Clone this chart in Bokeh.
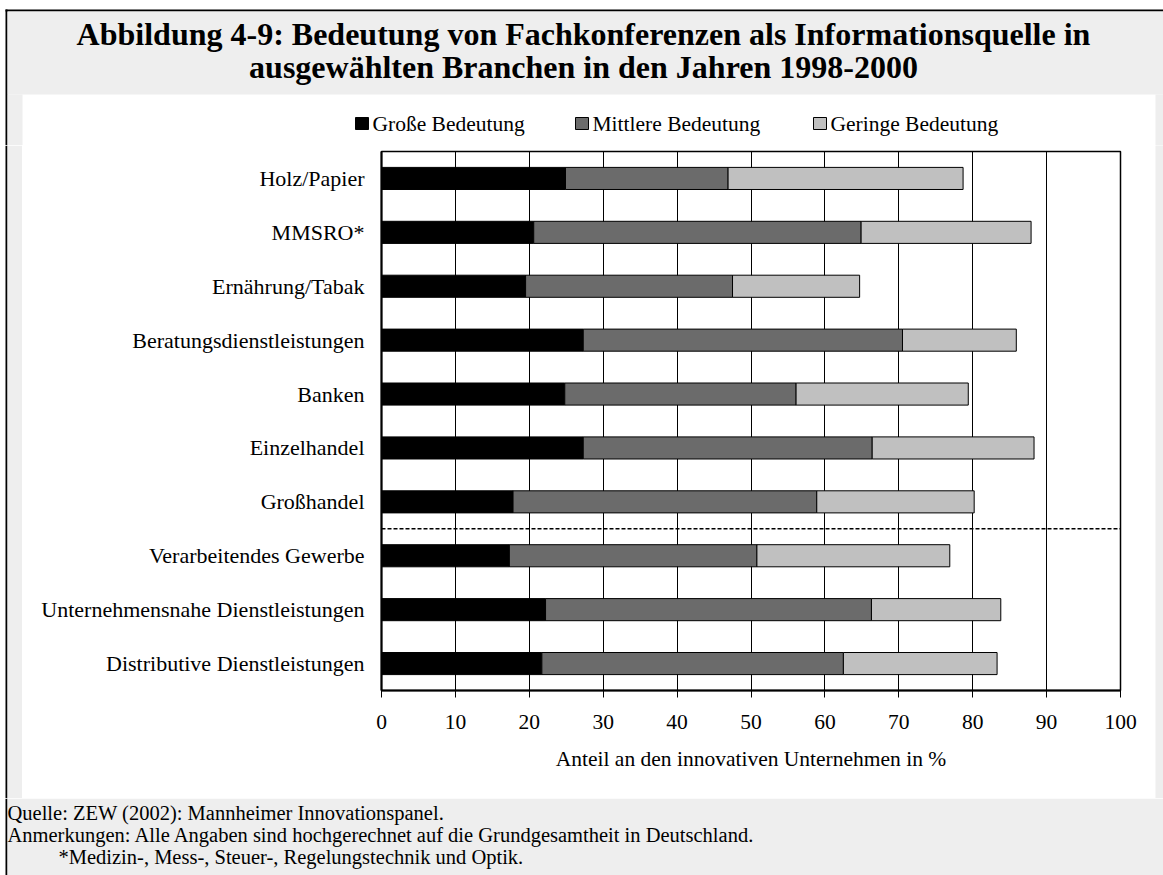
from bokeh.plotting import figure
from bokeh.layouts import column, row
from bokeh.models import ColumnDataSource, Range1d, FixedTicker, Span
from bokeh.core.properties import value
from bokeh.embed import file_html
from bokeh.resources import INLINE

# ---------------- data ----------------
categories = ["Holz/Papier", "MMSRO*", "Ernährung/Tabak", "Beratungsdienstleistungen",
              "Banken", "Einzelhandel", "Großhandel", "Verarbeitendes Gewerbe",
              "Unternehmensnahe Dienstleistungen", "Distributive Dienstleistungen"]
grosse = [24.9, 20.6, 19.5, 27.3, 24.8, 27.3, 17.8, 17.3, 22.2, 21.7]
mittlere = [22.0, 44.3, 28.0, 43.2, 31.3, 39.1, 41.1, 33.5, 44.1, 40.8]
geringe = [31.8, 23.0, 17.2, 15.4, 23.3, 21.9, 21.3, 26.1, 17.5, 20.8]
series_names = ["Große Bedeutung", "Mittlere Bedeutung", "Geringe Bedeutung"]
series_colors = ["#000000", "#6b6b6b", "#c0c0c0"]
x_ticks = [0, 10, 20, 30, 40, 50, 60, 70, 80, 90, 100]
separator_after = "Großhandel"
title_lines = ["Abbildung 4-9: Bedeutung von Fachkonferenzen als Informationsquelle in",
               "ausgewählten Branchen in den Jahren 1998-2000"]
axis_title = "Anteil an den innovativen Unternehmen in %"
notes = ["Quelle: ZEW (2002): Mannheimer Innovationspanel.",
         "Anmerkungen: Alle Angaben sind hochgerechnet auf die Grundgesamtheit in Deutschland.",
         "*Medizin-, Mess-, Steuer-, Regelungstechnik und Optik."]

# ---------------- layout (page pixels) ----------------
PW, PH = 1163, 875
PANEL_L, PANEL_R, PANEL_T, PANEL_B = 22, 1155, 94, 798   # white chart panel
TOP_B = 145                                              # header strip bottom
FL, FR, FT, FB = 381, 1120, 151, 690                     # plot frame
FONT = "Liberation Serif"
GREY = "#eeeeee"


def canvas(x0, x1, y0, y1, bg="white"):
    """figure whose data coordinates are page pixels (y downwards)"""
    f = figure(width=x1 - x0, height=y1 - y0, output_backend="svg", toolbar_location=None,
               x_range=Range1d(x0, x1), y_range=Range1d(y1, y0),
               x_axis_type=None, y_axis_type=None, min_border=0)
    f.title.visible = False
    f.outline_line_color = None
    f.background_fill_color = bg
    f.border_fill_color = bg
    f.grid.visible = False
    return f


def block(f, l, r, t, b, color, line=None):
    f.quad(left=[l], right=[r], top=[t], bottom=[b], fill_color=color,
           line_color=line, line_width=1)


def txt(f, x, y, s, size, align="left", style="normal"):
    f.text(x=[x], y=[y], text=[s], text_font=value(FONT), text_font_size=value(size),
           text_font_style=style, text_align=align, text_baseline="middle",
           text_color="black")


# ---- header strip: title + legend ----
ft = canvas(0, PW, 0, TOP_B)
block(ft, 5, PW, 9, 11, "black")
block(ft, 5, 7, 9, TOP_B, "black")
block(ft, 7, PW, 11, PANEL_T, GREY)
block(ft, 7, PANEL_L, PANEL_T, TOP_B, GREY)
block(ft, PANEL_R, PW, PANEL_T, TOP_B, GREY)
txt(ft, 583, 33, title_lines[0], "32px", "center", "bold")
txt(ft, 583, 66, title_lines[1], "32px", "center", "bold")

leg_sq = [355, 575, 813]
for name, col, x0 in zip(series_names, series_colors, leg_sq):
    block(ft, x0, x0 + 13, 117, 129, col, line="black")
    txt(ft, x0 + 17, 123, name, "21.5px")

# ---- side strips ----
fl = canvas(0, PANEL_L, TOP_B, PANEL_B)
block(fl, 5, 7, TOP_B, PANEL_B, "black")
block(fl, 7, PANEL_L, TOP_B, PANEL_B, GREY)
fr = canvas(PANEL_R, PW, TOP_B, PANEL_B, bg=GREY)

# ---- main chart ----
N = len(categories)
ypos = [N - 1 - i for i in range(N)]          # top category first
src = ColumnDataSource(dict(y=ypos, g=grosse, m=mittlere, l=geringe))

p = figure(width=PANEL_R - PANEL_L, height=PANEL_B - TOP_B, output_backend="svg",
           toolbar_location=None,
           x_range=Range1d(0, 100), y_range=Range1d(-0.5, N - 0.5),
           min_border_left=FL - PANEL_L, min_border_right=PANEL_R - FR,
           min_border_top=FT - TOP_B, min_border_bottom=PANEL_B - FB)
p.title.visible = False
p.border_fill_color = "white"
p.background_fill_color = "white"
p.outline_line_color = "black"
p.outline_line_width = 1.5

p.hbar_stack(["g", "m", "l"], y="y", height=0.41, source=src,
             fill_color=series_colors, line_color="black", line_width=1)

sep_loc = ypos[categories.index(separator_after)] - 0.5
p.add_layout(Span(location=sep_loc, dimension="width", line_color="black",
                  line_width=1.5, line_dash="4 2"))

xa = p.xaxis[0]
xa.ticker = FixedTicker(ticks=x_ticks)
xa.axis_line_width = 2
xa.axis_line_color = "black"
xa.major_tick_line_color = "black"
xa.major_tick_out = 7
xa.major_tick_in = 0
xa.minor_tick_line_color = None
xa.major_label_text_font = FONT
xa.major_label_text_font_size = "21.5px"
xa.major_label_text_color = "black"
xa.major_label_standoff = 17
xa.axis_label = axis_title
xa.axis_label_text_font = FONT
xa.axis_label_text_font_size = "21.5px"
xa.axis_label_text_font_style = "normal"
xa.axis_label_text_color = "black"
xa.axis_label_standoff = 15

ya = p.yaxis[0]
ya.ticker = FixedTicker(ticks=ypos)
ya.major_label_overrides = {yv: c for yv, c in zip(ypos, categories)}
ya.axis_line_width = 2
ya.axis_line_color = "black"
ya.major_tick_line_color = None
ya.minor_tick_line_color = None
ya.major_tick_out = 0
ya.major_tick_in = 0
ya.major_label_standoff = 17
ya.major_label_text_font = FONT
ya.major_label_text_font_size = "22px"
ya.major_label_text_color = "black"

p.xgrid.ticker = FixedTicker(ticks=x_ticks)
p.xgrid.grid_line_color = "black"
p.xgrid.grid_line_width = 1
p.ygrid.visible = False

# ---- footnote strip ----
fn = canvas(0, PW, PANEL_B, PH)
block(fn, 5, 7, PANEL_B, PH, "black")
block(fn, 7, PW, PANEL_B, PH, GREY)
txt(fn, 7, 812, notes[0], "20.5px")
txt(fn, 7, 834, notes[1], "20.5px")
txt(fn, 58, 856, notes[2], "20.5px")

layout = column(ft, row(fl, column(p, spacing=0), fr, spacing=0), fn, spacing=0)
open("out.html", "w").write(file_html(layout, INLINE))
